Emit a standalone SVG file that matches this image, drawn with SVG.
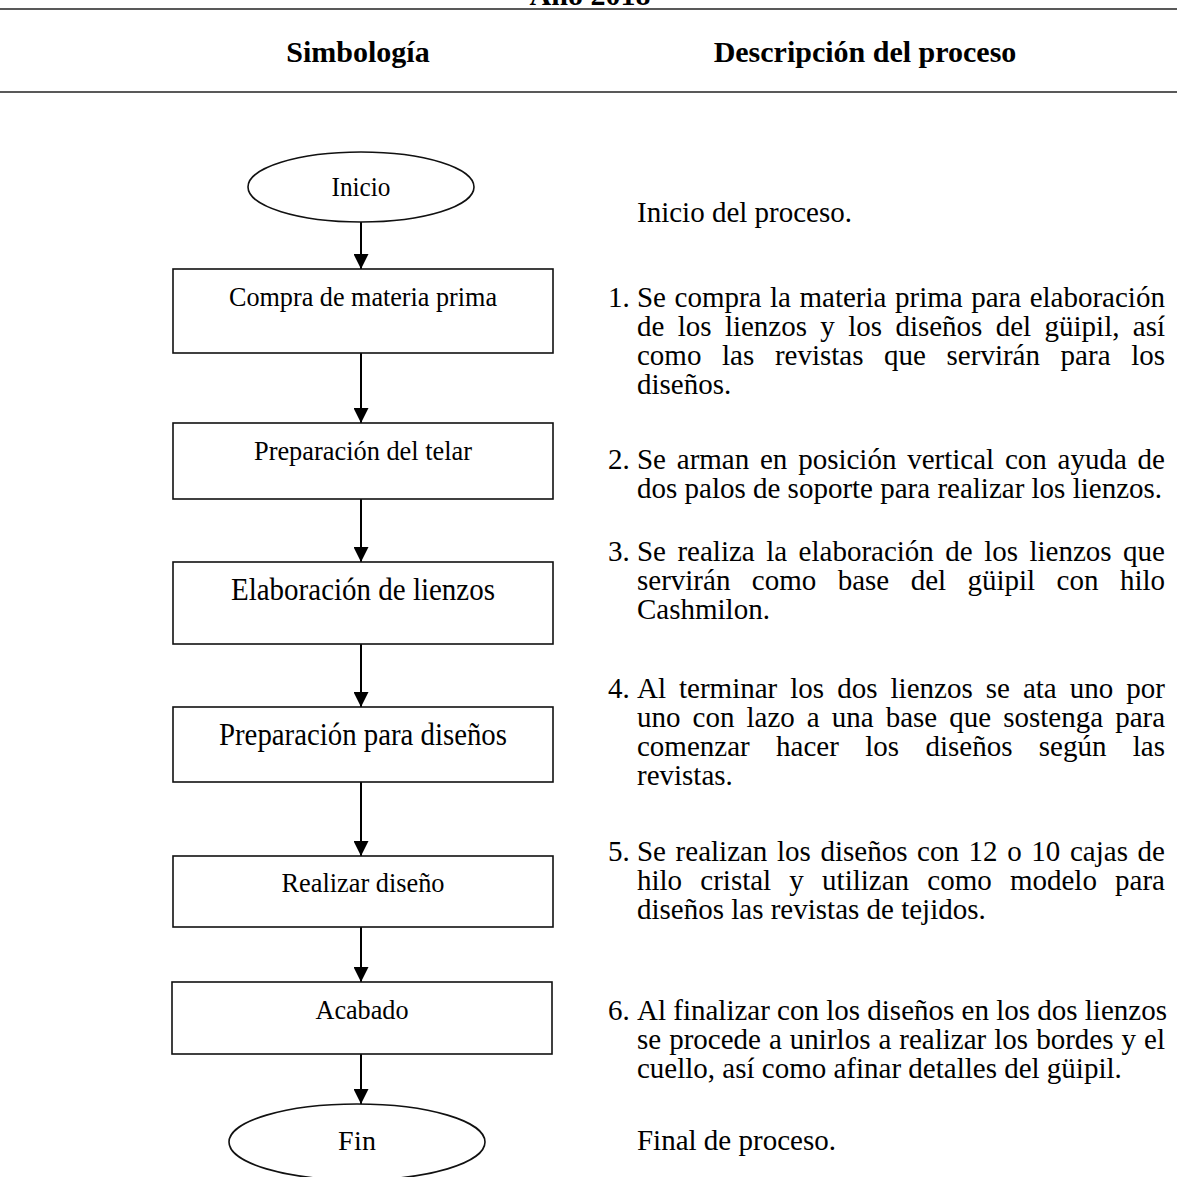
<svg xmlns="http://www.w3.org/2000/svg" width="1177" height="1177" viewBox="0 0 1177 1177">
<defs>
<marker id="arr" viewBox="0 0 10 10" refX="10" refY="5" markerWidth="15" markerHeight="15" markerUnits="userSpaceOnUse" orient="auto">
<path d="M0,0 L10,5 L0,10 z" fill="#000"/>
</marker>
<style>
.hdr{font-family:"Liberation Serif","Times New Roman",serif;font-weight:bold;font-size:30px;fill:#000;text-anchor:middle}
.rule{stroke:#222;stroke-width:1.6}
.box{fill:#fff;stroke:#111;stroke-width:1.6}
.lbl{font-family:"Liberation Serif","Times New Roman",serif;font-size:28px;fill:#000;text-anchor:middle}
.big{font-size:31px}
.desc{font-family:"Liberation Serif","Times New Roman",serif;font-size:30px;fill:#000}
.conn{stroke:#000;stroke-width:2;fill:none}
</style>
</defs>
<rect width="1177" height="1177" fill="#fff"/>
<g id="header">
<text class="hdr" x="590" y="5">Año 2018</text>
<line class="rule" x1="0" y1="9" x2="1177" y2="9"/>
<text class="hdr" x="358" y="62">Simbología</text>
<text class="hdr" x="865" y="62">Descripción del proceso</text>
<line class="rule" x1="0" y1="92" x2="1177" y2="92"/>
</g>
<g id="connectors">
<line class="conn" x1="361" y1="222" x2="361" y2="269" marker-end="url(#arr)"/>
<line class="conn" x1="361" y1="353" x2="361" y2="423" marker-end="url(#arr)"/>
<line class="conn" x1="361" y1="499" x2="361" y2="562" marker-end="url(#arr)"/>
<line class="conn" x1="361" y1="644" x2="361" y2="707" marker-end="url(#arr)"/>
<line class="conn" x1="361" y1="782" x2="361" y2="856" marker-end="url(#arr)"/>
<line class="conn" x1="361" y1="927" x2="361" y2="982" marker-end="url(#arr)"/>
<line class="conn" x1="361" y1="1054" x2="361" y2="1104" marker-end="url(#arr)"/>
</g>
<g id="n-inicio">
<ellipse class="box" cx="361" cy="187" rx="113" ry="35"/>
<text class="lbl" x="361" y="196" textLength="59" lengthAdjust="spacingAndGlyphs">Inicio</text>
</g>
<g id="n-compra">
<rect class="box" x="173" y="269" width="380" height="84"/>
<text class="lbl" x="363" y="306" textLength="268" lengthAdjust="spacingAndGlyphs">Compra de materia prima</text>
</g>
<g id="n-telar">
<rect class="box" x="173" y="423" width="380" height="76"/>
<text class="lbl" x="363" y="460" textLength="218" lengthAdjust="spacingAndGlyphs">Preparación del telar</text>
</g>
<g id="n-lienzos">
<rect class="box" x="173" y="562" width="380" height="82"/>
<text class="lbl big" x="363" y="600" textLength="264" lengthAdjust="spacingAndGlyphs">Elaboración de lienzos</text>
</g>
<g id="n-prepdis">
<rect class="box" x="173" y="707" width="380" height="75"/>
<text class="lbl big" x="363" y="745" textLength="288" lengthAdjust="spacingAndGlyphs">Preparación para diseños</text>
</g>
<g id="n-realizar">
<rect class="box" x="173" y="856" width="380" height="71"/>
<text class="lbl" x="363" y="892" textLength="163" lengthAdjust="spacingAndGlyphs">Realizar diseño</text>
</g>
<g id="n-acabado">
<rect class="box" x="172" y="982" width="380" height="72"/>
<text class="lbl" x="362" y="1019" textLength="93" lengthAdjust="spacingAndGlyphs">Acabado</text>
</g>
<g id="n-fin">
<ellipse class="box" cx="357" cy="1142" rx="128" ry="38"/>
<text class="lbl" x="357" y="1150" textLength="38" lengthAdjust="spacing">Fin</text>
</g>
<g id="description" transform="matrix(0.967 0 0 1 21.02 0)">
<text class="desc" x="637" y="222">Inicio del proceso.</text>
<text class="desc" x="607" y="307">1.</text>
<text class="desc" x="637" y="307" style="word-spacing:1.34px">Se compra la materia prima para elaboración</text>
<text class="desc" x="637" y="336" style="word-spacing:6.3px">de los lienzos y los diseños del güipil, así</text>
<text class="desc" x="637" y="365" style="word-spacing:13.83px">como las revistas que servirán para los</text>
<text class="desc" x="637" y="394">diseños.</text>
<text class="desc" x="607" y="469">2.</text>
<text class="desc" x="637" y="469" style="word-spacing:3.64px">Se arman en posición vertical con ayuda de</text>
<text class="desc" x="637" y="498">dos palos de soporte para realizar los lienzos.</text>
<text class="desc" x="607" y="561">3.</text>
<text class="desc" x="637" y="561" style="word-spacing:4.36px">Se realiza la elaboración de los lienzos que</text>
<text class="desc" x="637" y="590" style="word-spacing:14.66px">servirán como base del güipil con hilo</text>
<text class="desc" x="637" y="619">Cashmilon.</text>
<text class="desc" x="607" y="698">4.</text>
<text class="desc" x="637" y="698" style="word-spacing:5.99px">Al terminar los dos lienzos se ata uno por</text>
<text class="desc" x="637" y="727" style="word-spacing:4.97px">uno con lazo a una base que sostenga para</text>
<text class="desc" x="637" y="756" style="word-spacing:19.77px">comenzar hacer los diseños según las</text>
<text class="desc" x="637" y="785">revistas.</text>
<text class="desc" x="607" y="861">5.</text>
<text class="desc" x="637" y="861" style="word-spacing:2.46px">Se realizan los diseños con 12 o 10 cajas de</text>
<text class="desc" x="637" y="890" style="word-spacing:11.33px">hilo cristal y utilizan como modelo para</text>
<text class="desc" x="637" y="919">diseños las revistas de tejidos.</text>
<text class="desc" x="607" y="1020">6.</text>
<text class="desc" x="637" y="1020">Al finalizar con los diseños en los dos lienzos</text>
<text class="desc" x="637" y="1049" style="word-spacing:0.8px">se procede a unirlos a realizar los bordes y el</text>
<text class="desc" x="637" y="1078">cuello, así como afinar detalles del güipil.</text>
<text class="desc" x="637" y="1150">Final de proceso.</text>
</g>
</svg>
